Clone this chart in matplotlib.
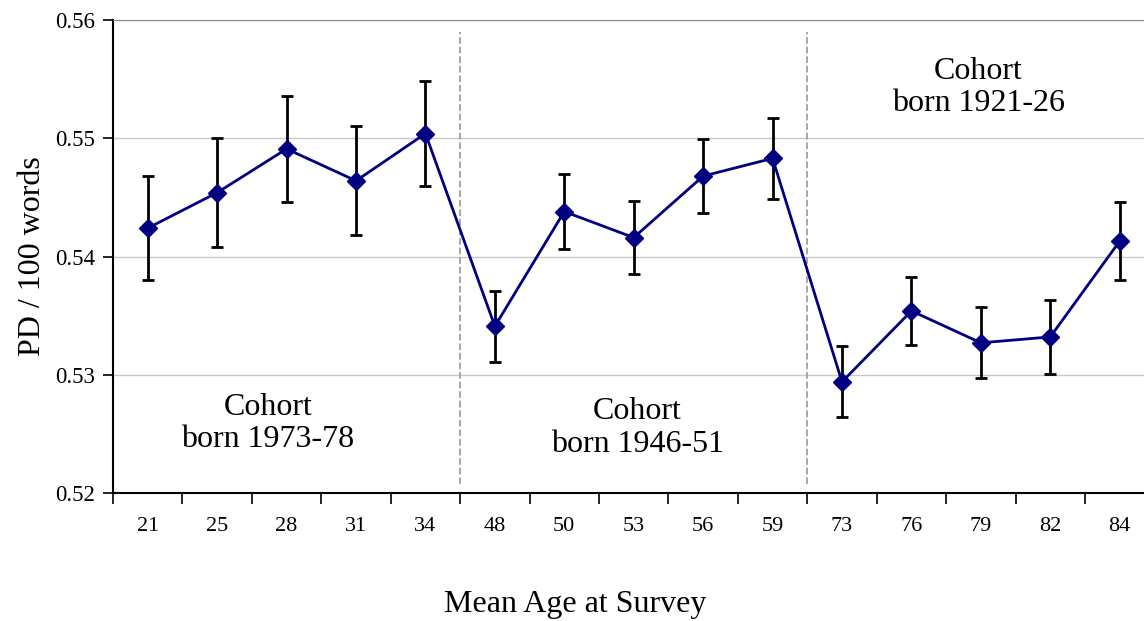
import numpy as np
import matplotlib
matplotlib.use("Agg")
import matplotlib.pyplot as plt

# mean age at survey, one category per survey
ages = ['21', '25', '28', '31', '34', '48', '50', '53', '56', '59', '73', '76', '79', '82', '84']
pd_rate = [0.5424, 0.5454, 0.5491, 0.5464, 0.5504,
           0.5341, 0.5438, 0.5416, 0.5468, 0.5483,
           0.5294, 0.5354, 0.5327, 0.5332, 0.5413]
err = [0.0044, 0.0046, 0.0045, 0.0046, 0.0044,
       0.0030, 0.0032, 0.0031, 0.0031, 0.0034,
       0.0030, 0.0029, 0.0030, 0.0031, 0.0033]
cohorts = ['Cohort\nborn 1973-78', 'Cohort\nborn 1946-51', 'Cohort\nborn 1921-26']

plt.rcParams['font.family'] = ['Liberation Serif', 'DejaVu Serif']

fig = plt.figure(figsize=(11.44, 6.21), dpi=100)
ax = fig.add_axes([0.0988, 0.2061, 0.9103, 0.7617])

x = np.arange(len(ages))
ax.errorbar(x, pd_rate, yerr=err, fmt='none', ecolor='black', elinewidth=2,
            capsize=4, capthick=2, zorder=3)
ax.plot(x, pd_rate, color='#000080', lw=2, marker='D', ms=9, zorder=4)

ax.set_xlim(-0.5, len(ages) - 0.5)
ax.set_ylim(0.52, 0.56)
ax.set_yticks([0.52, 0.53, 0.54, 0.55, 0.56])
ax.set_yticklabels(['0.52', '0.53', '0.54', '0.55', '0.56'])
ax.set_xticks(x)
ax.set_xticklabels(ages)
ax.set_xticks(np.arange(len(ages)) - 0.5, minor=True)
ax.tick_params(axis='x', which='major', length=0, labelsize=16, pad=17)
ax.tick_params(axis='x', which='minor', length=8, width=1.2, direction='out')
ax.tick_params(axis='y', length=7, width=1.2, labelsize=16.5, pad=6)
ax.yaxis.grid(True, color='#c8c8c8', lw=1)
ax.set_axisbelow(True)

ax.spines['right'].set_visible(False)
ax.spines['top'].set_color('#888888')
ax.spines['left'].set_linewidth(1.5)
ax.spines['bottom'].set_linewidth(1.5)

# cohort dividers
for b in [4.5, 9.5]:
    ax.axvline(b, ymin=0.02, ymax=0.975, color='#a0a0a0', ls='--', lw=1.3)

ax.text(1.73, 0.5259, cohorts[0], ha='center', va='center', fontsize=23, linespacing=1.15)
ax.text(7.05, 0.5255, cohorts[1], ha='center', va='center', fontsize=23, linespacing=1.15)
ax.text(11.96, 0.5543, cohorts[2], ha='center', va='center', fontsize=23, linespacing=1.15)

ax.set_ylabel('PD / 100 words', fontsize=23, labelpad=6)
ax.set_xlabel('Mean Age at Survey', fontsize=23)
ax.xaxis.set_label_coords(0.444, -0.205)

fig.savefig('out.png', dpi=100)
